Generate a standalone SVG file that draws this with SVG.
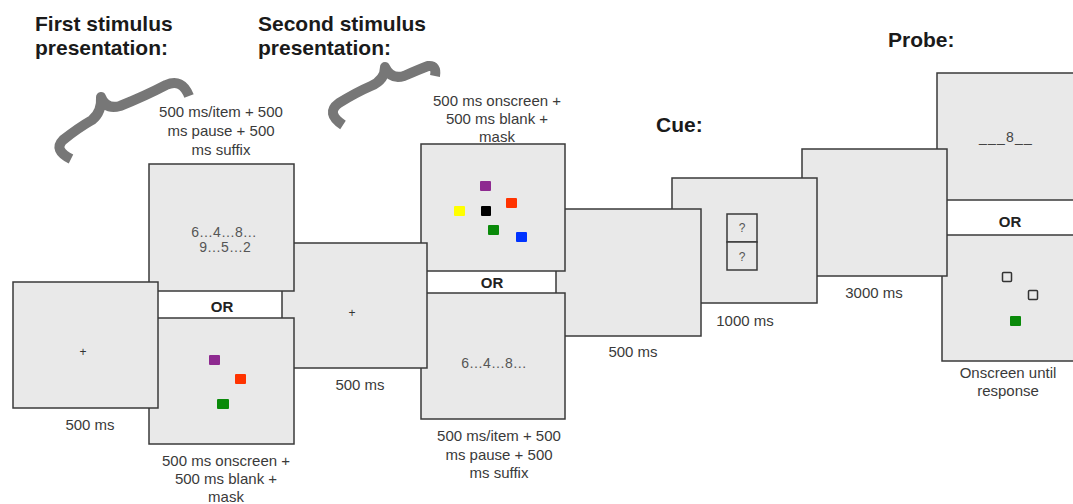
<svg xmlns="http://www.w3.org/2000/svg" width="1073" height="504" viewBox="0 0 1073 504">
<style>
.scr{fill:#e9e9e9;stroke:#3a3a3a;stroke-width:1.5}
.t{font-family:"Liberation Sans",Arial,sans-serif;font-size:15px;fill:#3a3a3a;text-anchor:middle}
.s{font-family:"Liberation Sans",Arial,sans-serif;font-size:14px;fill:#555;text-anchor:middle}
.or{font-family:"Liberation Sans",Arial,sans-serif;font-size:15px;font-weight:bold;fill:#222;text-anchor:middle}
.h{font-family:"Liberation Sans",Arial,sans-serif;font-size:21px;font-weight:bold;fill:#1a1a1a}
.pl{font-family:"Liberation Sans",Arial,sans-serif;font-size:12px;fill:#333;text-anchor:middle}
.q{font-family:"Liberation Sans",Arial,sans-serif;font-size:12px;fill:#555;text-anchor:middle}
.brace{fill:none;stroke:#777;stroke-width:10;stroke-linejoin:round}
</style>
<rect width="1073" height="504" fill="#fff"/>

<g id="titles">
<text class="h" x="35" y="31">First stimulus</text>
<text class="h" x="35" y="55">presentation:</text>
<text class="h" x="258" y="31">Second stimulus</text>
<text class="h" x="258" y="55">presentation:</text>
<text class="h" x="656" y="132">Cue:</text>
<text class="h" x="888" y="47">Probe:</text>
</g>

<g id="braces">
<path class="brace" d="M71,159 Q53,150 63,140 Q78,128 92,120 Q102,112 101,97 Q106,110 120,106 Q145,96 166,85 Q182,78 189,96"/>
<path class="brace" d="M343,125 Q325,113 339,103 Q357,92 371,86 Q385,80 385,67 Q391,80 404,76 Q420,69 428,66 Q437,65 435,76"/>
</g>

<g id="connectors"></g>

<g id="probe-top">
<rect class="scr" x="937" y="73" width="150" height="127"/>
<text x="979" y="142" style="font-family:'Liberation Sans',Arial,sans-serif;font-size:14px;fill:#444;letter-spacing:1.2px">___8__</text>
</g>
<g id="probe-bottom">
<rect class="scr" x="942" y="235" width="150" height="126"/>
<rect x="1002.5" y="272.5" width="9" height="9" rx="1" fill="none" stroke="#333" stroke-width="1.5"/>
<rect x="1028.5" y="290.5" width="9" height="9" rx="1" fill="none" stroke="#333" stroke-width="1.5"/>
<rect x="1010" y="316" width="11" height="10" rx="1" fill="#0a8a0a"/>
<text class="t" x="1008" y="378">Onscreen until</text>
<text class="t" x="1008" y="396">response</text>
</g>
<g id="probe-or"><text class="or" x="1010" y="227">OR</text></g>

<g id="retention">
<rect class="scr" x="802" y="149" width="145" height="127"/>
<text class="t" x="874" y="298">3000 ms</text>
</g>

<g id="cue">
<rect class="scr" x="672" y="178" width="145" height="125"/>
<rect class="scr" x="727" y="214" width="30" height="28"/>
<rect class="scr" x="727" y="242" width="30" height="28"/>
<text class="q" x="742" y="232">?</text>
<text class="q" x="742" y="261">?</text>
<text class="t" x="745" y="326">1000 ms</text>
</g>

<g id="blank2">
<rect class="scr" x="556" y="209" width="145" height="127"/>
<text class="t" x="633" y="357">500 ms</text>
</g>

<g id="stim2-visual">
<rect class="scr" x="421" y="144" width="144" height="127"/>
<rect x="480" y="181" width="11" height="10" rx="1" fill="#8e2a90"/>
<rect x="506" y="198" width="11" height="10" rx="1" fill="#ff3300"/>
<rect x="454" y="206" width="11" height="10" rx="1" fill="#ffff00"/>
<rect x="481" y="206" width="10" height="10" rx="1" fill="#000"/>
<rect x="488" y="225" width="11" height="10" rx="1" fill="#0a8a0a"/>
<rect x="516" y="232" width="11" height="10" rx="1" fill="#0033ff"/>
<text class="t" x="497" y="106">500 ms onscreen +</text>
<text class="t" x="497" y="124">500 ms blank +</text>
<text class="t" x="497" y="142">mask</text>
</g>
<g id="stim2-or"><text class="or" x="492" y="288">OR</text></g>
<g id="stim2-verbal">
<rect class="scr" x="421" y="293" width="144" height="126"/>
<text class="s" x="494" y="368">6…4…8…</text>
<text class="t" x="499" y="441">500 ms/item + 500</text>
<text class="t" x="499" y="460">ms pause + 500</text>
<text class="t" x="499" y="478">ms suffix</text>
</g>

<g id="fixation2">
<rect class="scr" x="282" y="243" width="145" height="125"/>
<text class="pl" x="352" y="317">+</text>
<text class="t" x="360" y="390">500 ms</text>
</g>

<g id="stim1-verbal">
<rect class="scr" x="149" y="164" width="145" height="127"/>
<text class="s" x="224" y="237">6…4…8…</text>
<text class="s" x="225" y="252">9…5…2</text>
<text class="t" x="221" y="117">500 ms/item + 500</text>
<text class="t" x="221" y="136">ms pause + 500</text>
<text class="t" x="221" y="155">ms suffix</text>
</g>
<g id="stim1-or"><text class="or" x="222" y="312">OR</text></g>
<g id="stim1-visual">
<rect class="scr" x="149" y="318" width="145" height="126"/>
<rect x="209" y="355" width="11" height="10" rx="1" fill="#8e2a90"/>
<rect x="235" y="374" width="11" height="10" rx="1" fill="#ff3300"/>
<rect x="217" y="399" width="12" height="10" rx="1" fill="#0a8a0a"/>
<text class="t" x="226" y="466">500 ms onscreen +</text>
<text class="t" x="226" y="484">500 ms blank +</text>
<text class="t" x="226" y="502">mask</text>
</g>

<g id="fixation1">
<rect class="scr" x="13" y="282" width="145" height="126"/>
<text class="pl" x="83" y="356">+</text>
<text class="t" x="90" y="430">500 ms</text>
</g>
</svg>
